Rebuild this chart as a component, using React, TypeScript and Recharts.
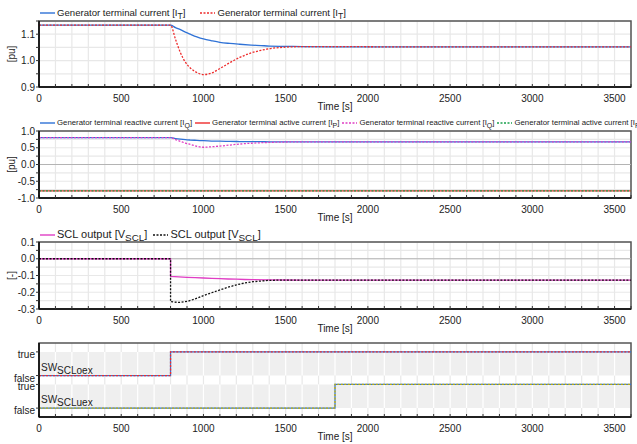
import { LineChart, Line, XAxis, YAxis, CartesianGrid, ReferenceArea, ReferenceLine } from "recharts"

const FONT = '"Liberation Sans", Arial, sans-serif'
const TEXT = "#222"

const BLUE = "#2f72d6"
const RED = "#ee2b2b"
const PINK = "#e03ec4"
const GREEN = "#18a04c"
const OLIVE = "#c8b400"

// time axis: grid + minor ticks every 100 s, labels every 500 s
const TIME_TICKS = [
  0, 100, 200, 300, 400, 500, 600, 700, 800, 900, 1000, 1100, 1200, 1300, 1400, 1500, 1600, 1700, 1800,
  1900, 2000, 2100, 2200, 2300, 2400, 2500, 2600, 2700, 2800, 2900, 3000, 3100, 3200, 3300, 3400, 3500, 3600,
]
const TIME_LABELS = [0, 500, 1000, 1500, 2000, 2500, 3000, 3500]

// panel 1 + 2 sample times
const T_CURR = [0, 800, 830, 860, 890, 920, 960, 1000, 1050, 1100, 1160, 1220, 1290, 1350, 1400, 1500, 1600, 1800, 2200, 3600]
const IT_A = [1.134, 1.134, 1.125, 1.117, 1.108, 1.1, 1.09, 1.082, 1.075, 1.069, 1.065, 1.062, 1.059, 1.057, 1.055, 1.054, 1.053, 1.052, 1.052, 1.052]
const IT_B = [1.134, 1.134, 1.081, 1.03, 0.994, 0.972, 0.955, 0.947, 0.953, 0.97, 0.992, 1.012, 1.029, 1.039, 1.045, 1.051, 1.053, 1.053, 1.052, 1.052]
const IQ_A = [0.8, 0.8, 0.775, 0.755, 0.74, 0.73, 0.72, 0.71, 0.7, 0.695, 0.69, 0.685, 0.682, 0.68, 0.678, 0.676, 0.675, 0.675, 0.675, 0.675]
const IQ_B = [0.8, 0.8, 0.745, 0.69, 0.64, 0.6, 0.545, 0.515, 0.53, 0.55, 0.58, 0.61, 0.635, 0.65, 0.66, 0.672, 0.675, 0.675, 0.675, 0.675]
const IP_A = [-0.79, -0.79, -0.79, -0.79, -0.79, -0.79, -0.79, -0.79, -0.79, -0.79, -0.79, -0.79, -0.79, -0.79, -0.79, -0.79, -0.79, -0.79, -0.79, -0.79]
const IP_B = [-0.79, -0.79, -0.79, -0.79, -0.79, -0.79, -0.79, -0.79, -0.79, -0.79, -0.79, -0.79, -0.79, -0.79, -0.79, -0.79, -0.79, -0.79, -0.79, -0.79]

// panel 3 (jump at 800 s)
const T_SCL = [0, 800, 800, 850, 900, 950, 1000, 1050, 1100, 1150, 1200, 1250, 1300, 1400, 1500, 1600, 1800, 3600]
const VSCL_A = [0, 0, -0.105, -0.108, -0.111, -0.113, -0.115, -0.117, -0.119, -0.121, -0.122, -0.124, -0.125, -0.126, -0.127, -0.128, -0.128, -0.128]
const VSCL_B = [0, 0, -0.256, -0.261, -0.255, -0.24, -0.22, -0.203, -0.186, -0.17, -0.156, -0.145, -0.137, -0.129, -0.127, -0.128, -0.128, -0.128]

// panel 4 boolean switches
const T_SW = [0, 800, 1800, 3600]
const SW_OEX = [0, 1, 1, 1]
const SW_UEX = [0, 0, 1, 1]
const OEX_BASE = 1.375
const UEX_BASE = 0

const currRows = T_CURR.map((t, i) => ({
  t,
  itA: IT_A[i],
  itB: IT_B[i],
  iqA: IQ_A[i],
  ipA: IP_A[i],
  iqB: IQ_B[i],
  ipB: IP_B[i],
}))
const sclRows = T_SCL.map((t, i) => ({ t, a: VSCL_A[i], b: VSCL_B[i] }))
const swRows = T_SW.map((t, i) => ({ t, oex: OEX_BASE + SW_OEX[i], uex: UEX_BASE + SW_UEX[i] }))

type LegendItem = { text: string; sym: string; sub: string; color: string; dotted?: boolean; clip?: boolean }

function LegendRow({ items, fontSize, gap }: { items: LegendItem[]; fontSize: number; gap: number }) {
  return (
    <div
      style={{
        position: "absolute",
        left: 40,
        top: 6,
        width: 597,
        overflow: "hidden",
        display: "flex",
        gap,
        whiteSpace: "nowrap",
        fontFamily: FONT,
        fontSize,
        lineHeight: "14px",
        color: TEXT,
      }}
    >
      {items.map((it, i) => (
        <div key={i} style={{ display: "flex", alignItems: "center", flexShrink: 0 }}>
          <svg width={15} height={4} style={{ marginRight: 2 }}>
            <line x1={0} y1={2} x2={15} y2={2} stroke={it.color} strokeWidth={1.4} strokeDasharray={it.dotted ? "2 1.5" : undefined} />
          </svg>
          <span>
            {it.text} [{it.sym}
            <span style={{ position: "relative", top: 3, fontSize: "0.9em" }}>{it.sub}</span>
            {it.clip ? "" : "]"}
          </span>
        </div>
      ))}
    </div>
  )
}

const yLabel = (text: string) => (props: any) => {
  const vb = props.viewBox || {}
  const cy = (vb.y ?? 0) + (vb.height ?? 0) / 2
  return (
    <text x={11} y={cy} transform={`rotate(-90 11 ${cy})`} textAnchor="middle" dominantBaseline="central" fill={TEXT} fontSize={10} fontFamily={FONT}>
      {text}
    </text>
  )
}

const swLabel = (sub: string) => (props: any) => {
  const vb = props.viewBox || {}
  const x = (vb.x ?? 0) + 2
  const y = (vb.y ?? 0) + 19
  return (
    <text x={x} y={y} fill={TEXT} fontSize={10} fontFamily={FONT}>
      SW<tspan dy={3}>{sub}</tspan>
    </text>
  )
}

const tickStyle = { fill: TEXT, fontSize: 10, fontFamily: FONT }

function Panel({
  top,
  height,
  marginTop,
  data,
  domain,
  yTicks,
  yFmt,
  label,
  horizontal = true,
  yDy = 0,
  children,
}: {
  top: number
  height: number
  marginTop: number
  data: any[]
  domain: [number, number]
  yTicks: number[]
  yFmt: (v: number) => string
  label?: string
  horizontal?: boolean
  yDy?: number
  children: any
}) {
  return (
    <LineChart width={637} height={height} data={data} margin={{ top: marginTop, right: 6, bottom: 0, left: 0 }} style={{ position: "absolute", left: 0, top }}>
      <CartesianGrid stroke="#e8e8e8" strokeWidth={1.2} horizontal={horizontal} />
      <XAxis
        dataKey="t"
        type="number"
        domain={[0, 3600]}
        ticks={TIME_TICKS}
        interval={0}
        tickFormatter={(v: number) => (TIME_LABELS.includes(v) ? String(v) : "")}
        tick={tickStyle}
        tickSize={-3}
        tickMargin={10.5}
        tickLine={{ stroke: "#333" }}
        axisLine={{ stroke: "#000", strokeWidth: 1.5 }}
        height={27}
        label={{ value: "Time [s]", position: "insideBottom", offset: 4, fill: TEXT, fontSize: 10, fontFamily: FONT }}
      />
      <YAxis
        type="number"
        domain={domain}
        ticks={yTicks}
        interval={0}
        allowDataOverflow
        tickFormatter={yFmt}
        tick={{ ...tickStyle, dy: yDy }}
        tickSize={3}
        tickMargin={1}
        tickLine={{ stroke: "#333" }}
        axisLine={{ stroke: "#000", strokeWidth: 1.5 }}
        width={39}
        label={label ? yLabel(label) : undefined}
      />
      {children}
      <ReferenceArea x1={0} x2={3600} y1={domain[0]} y2={domain[1]} fill="none" stroke="#555" strokeWidth={1.5} />
    </LineChart>
  )
}

const fmtSet = (labels: number[]) => (v: number) =>
  labels.some((l) => Math.abs(l - v) < 1e-9) ? v.toFixed(1) : ""

// white grid lines drawn across the grey boolean bands
const bandGrid = (base: number) =>
  TIME_TICKS.slice(1, -1).map((t) => (
    <ReferenceLine
      key={`${base}-${t}`}
      segment={[
        { x: t, y: base },
        { x: t, y: base + 1 },
      ]}
      stroke="#fff"
      strokeWidth={1.2}
    />
  ))

// band name drawn after the white lines so it stays on top
const bandName = (base: number, sub: string) => (
  <ReferenceLine
    segment={[
      { x: 0, y: base + 1 },
      { x: 0, y: base },
    ]}
    stroke="none"
    label={swLabel(sub)}
  />
)

export default function App() {
  return (
    <div style={{ position: "absolute", left: 0, top: 0, width: 637, height: 444, background: "#fff" }}>
      {/* panel 1 */}
      <div style={{ position: "absolute", left: 0, top: 0, width: 637, height: 114 }}>
        <Panel
          top={0}
          height={114}
          marginTop={21}
          data={currRows}
          domain={[0.9, 1.15]}
          yTicks={[0.9, 0.95, 1.0, 1.05, 1.1, 1.15]}
          yFmt={fmtSet([0.9, 1.0, 1.1])}
          label="[pu]"
        >
          <Line dataKey="itA" type="monotone" stroke={BLUE} strokeWidth={1.3} dot={false} isAnimationActive={false} />
          <Line dataKey="itB" type="monotone" stroke={RED} strokeWidth={1.3} strokeDasharray="2 1.5" dot={false} isAnimationActive={false} />
        </Panel>
        <LegendRow
          fontSize={9.6}
          gap={15}
          items={[
            { text: "Generator terminal current", sym: "I", sub: "T", color: BLUE },
            { text: "Generator terminal current", sym: "I", sub: "T", color: RED, dotted: true },
          ]}
        />
      </div>

      {/* panel 2 */}
      <div style={{ position: "absolute", left: 0, top: 110, width: 637, height: 115 }}>
        <Panel
          top={0}
          height={115}
          marginTop={21}
          data={currRows}
          domain={[-1, 1]}
          yTicks={[-1, -0.75, -0.5, -0.25, 0, 0.25, 0.5, 0.75, 1]}
          yFmt={fmtSet([-1, -0.5, 0, 0.5, 1])}
          label="[pu]"
        >
          <ReferenceLine y={0} stroke="#b4b4b4" strokeWidth={1.2} />
          <Line dataKey="iqA" type="monotone" stroke={BLUE} strokeWidth={1.3} dot={false} isAnimationActive={false} />
          <Line dataKey="ipA" type="monotone" stroke={RED} strokeWidth={1.3} dot={false} isAnimationActive={false} />
          <Line dataKey="iqB" type="monotone" stroke={PINK} strokeWidth={1.3} strokeDasharray="2 1.5" dot={false} isAnimationActive={false} />
          <Line dataKey="ipB" type="monotone" stroke={GREEN} strokeWidth={1.3} strokeDasharray="2 1.5" dot={false} isAnimationActive={false} />
        </Panel>
        <LegendRow
          fontSize={7.8}
          gap={3}
          items={[
            { text: "Generator terminal reactive current", sym: "I", sub: "Q", color: BLUE },
            { text: "Generator terminal active current", sym: "I", sub: "P", color: RED },
            { text: "Generator terminal reactive current", sym: "I", sub: "Q", color: PINK, dotted: true },
            { text: "Generator terminal active current", sym: "I", sub: "P", color: GREEN, dotted: true, clip: true },
          ]}
        />
      </div>

      {/* panel 3 */}
      <div style={{ position: "absolute", left: 0, top: 221, width: 637, height: 115 }}>
        <Panel
          top={0}
          height={115}
          marginTop={21}
          data={sclRows}
          domain={[-0.3, 0.1]}
          yTicks={[-0.3, -0.25, -0.2, -0.15, -0.1, -0.05, 0, 0.05, 0.1]}
          yFmt={fmtSet([-0.3, -0.2, -0.1, 0, 0.1])}
          label="[-]"
        >
          <ReferenceLine y={0} stroke="#b4b4b4" strokeWidth={1.2} />
          <Line dataKey="a" type="linear" stroke={PINK} strokeWidth={1.3} dot={false} isAnimationActive={false} />
          <Line dataKey="b" type="linear" stroke="#111" strokeWidth={1.3} strokeDasharray="2 1.5" dot={false} isAnimationActive={false} />
        </Panel>
        <LegendRow
          fontSize={11}
          gap={6}
          items={[
            { text: "SCL output", sym: "V", sub: "SCL", color: PINK },
            { text: "SCL output", sym: "V", sub: "SCL", color: "#111", dotted: true },
          ]}
        />
      </div>

      {/* panel 4 */}
      <div style={{ position: "absolute", left: 0, top: 332, width: 637, height: 112 }}>
        <Panel
          top={0}
          height={112}
          marginTop={11}
          data={swRows}
          domain={[-0.375, 2.75]}
          yTicks={[UEX_BASE, UEX_BASE + 1, OEX_BASE, OEX_BASE + 1]}
          yFmt={(v: number) => (v === UEX_BASE || v === OEX_BASE ? "false" : "true")}
          horizontal={false}
          yDy={2.5}
        >
          <ReferenceArea x1={0} x2={3600} y1={OEX_BASE} y2={OEX_BASE + 1} fill="#efefef" fillOpacity={1} />
          <ReferenceArea x1={0} x2={3600} y1={UEX_BASE} y2={UEX_BASE + 1} fill="#efefef" fillOpacity={1} />
          {bandGrid(OEX_BASE)}
          {bandGrid(UEX_BASE)}
          {bandName(OEX_BASE, "SCLoex")}
          {bandName(UEX_BASE, "SCLuex")}
          <Line dataKey="oex" type="stepAfter" stroke={BLUE} strokeWidth={1.3} dot={false} isAnimationActive={false} />
          <Line dataKey="oex" type="stepAfter" stroke={RED} strokeWidth={1.3} strokeDasharray="2 1.5" dot={false} isAnimationActive={false} />
          <Line dataKey="uex" type="stepAfter" stroke={BLUE} strokeWidth={1.3} dot={false} isAnimationActive={false} />
          <Line dataKey="uex" type="stepAfter" stroke={OLIVE} strokeWidth={1.3} strokeDasharray="2 1.5" dot={false} isAnimationActive={false} />
        </Panel>
      </div>
    </div>
  )
}
